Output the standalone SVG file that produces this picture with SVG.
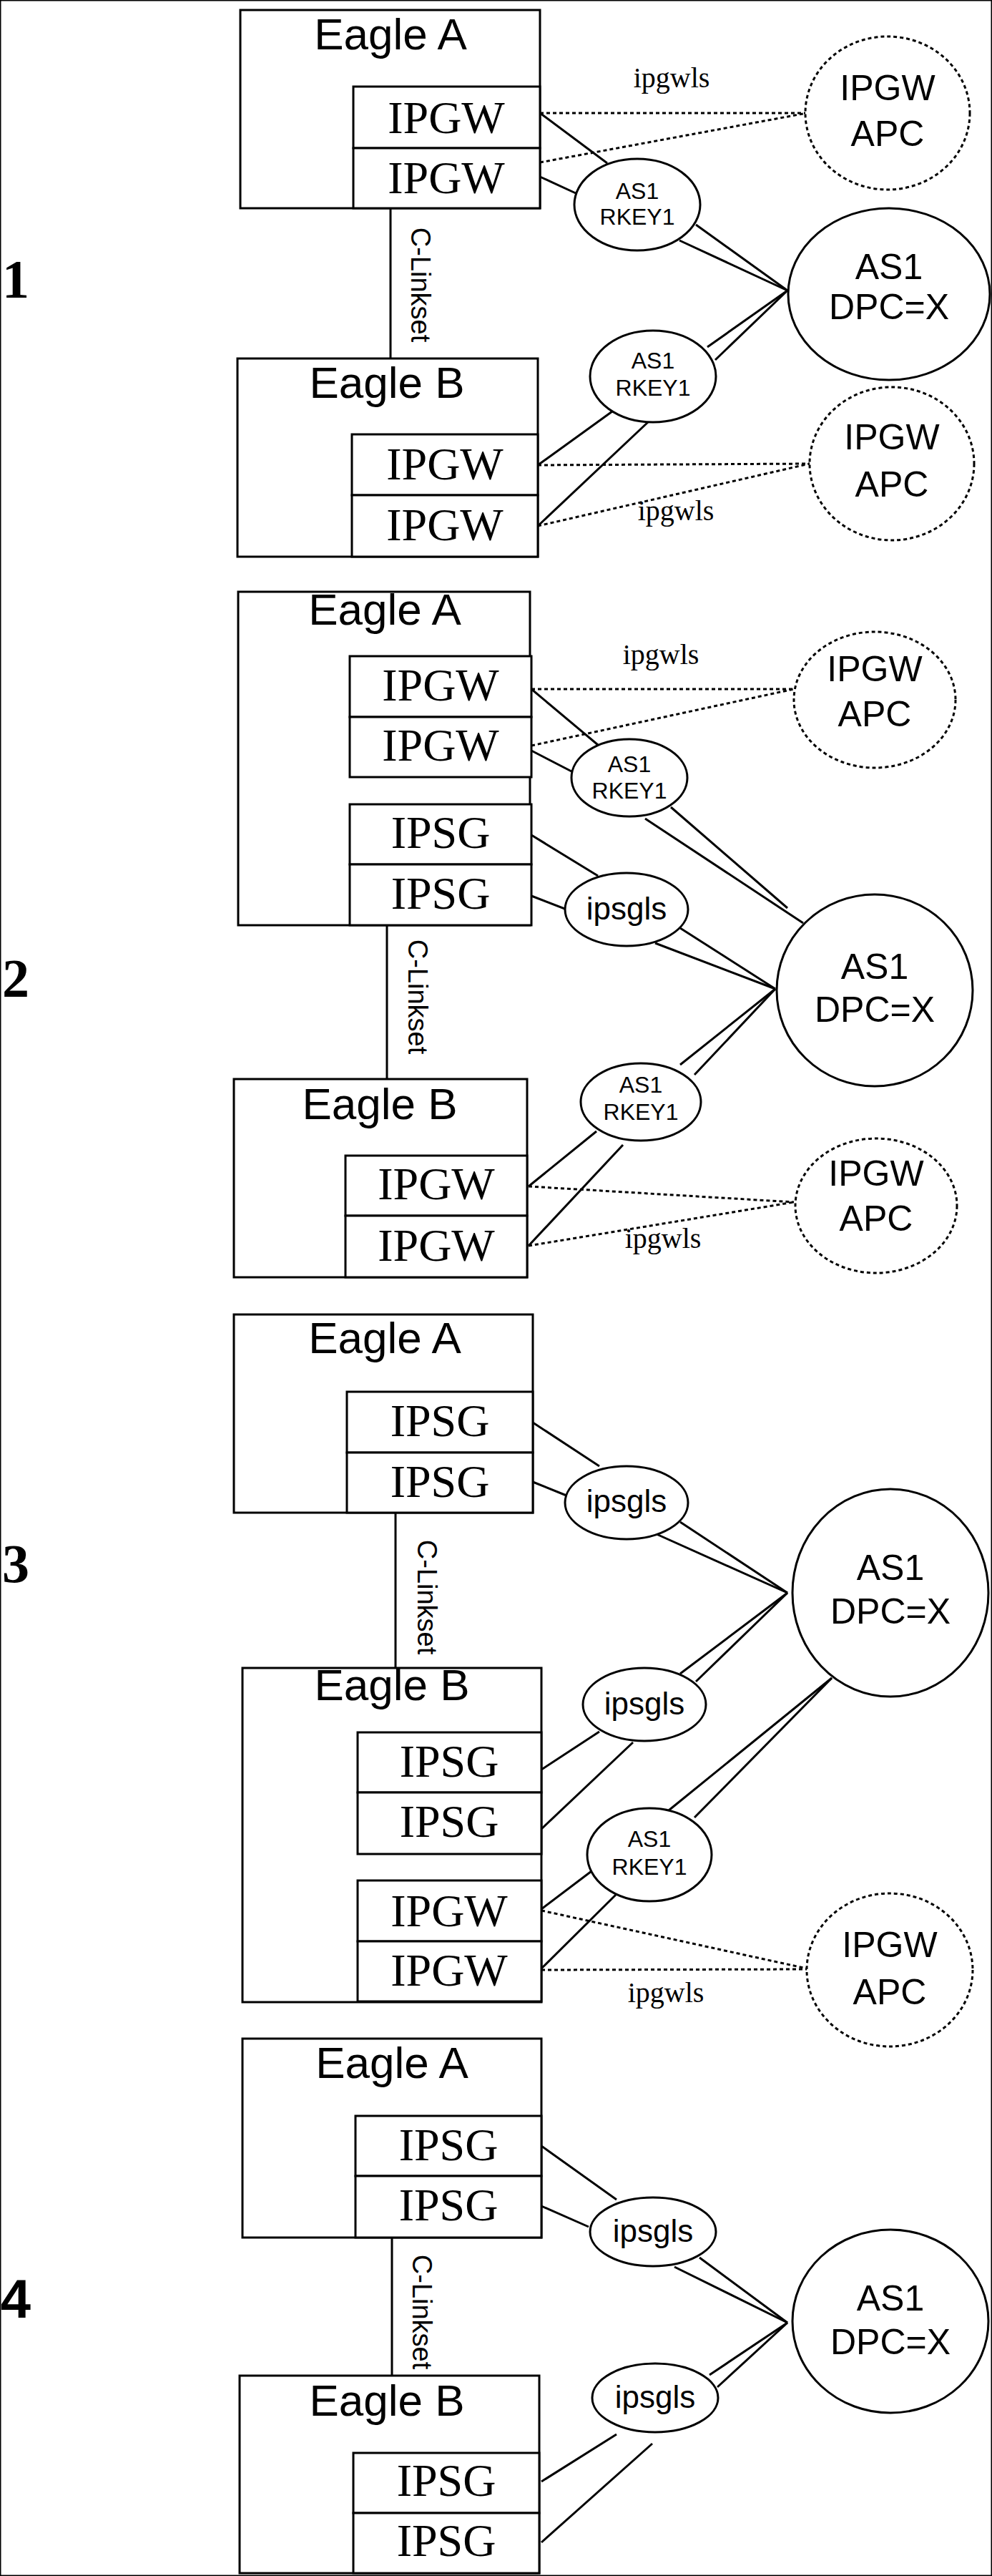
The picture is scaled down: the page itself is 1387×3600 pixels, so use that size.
<svg xmlns="http://www.w3.org/2000/svg" width="1387" height="3600" viewBox="0 0 1387 3600">
<style>
rect,ellipse{fill:#fff;stroke:#000;stroke-width:3}
.d{stroke-dasharray:5,4}
line{stroke:#000;stroke-width:3}
line.dl{stroke-dasharray:5,4}
text{text-anchor:middle;fill:#000}
.t{font-family:"Liberation Serif",serif;font-size:64px}
.e{font-family:"Liberation Sans",sans-serif;font-size:62px}
.s{font-family:"Liberation Sans",sans-serif;font-size:32px}
.m{font-family:"Liberation Sans",sans-serif;font-size:50px}
.g{font-family:"Liberation Sans",sans-serif;font-size:44px}
.w{font-family:"Liberation Serif",serif;font-size:40px}
.c{font-family:"Liberation Sans",sans-serif;font-size:38px}
.n{font-family:"Liberation Serif",serif;font-size:76px;font-weight:bold}
</style>
<rect width="1387" height="3600" fill="#fff" stroke="none"/>
<g id="connectors">
<line x1="546" y1="291" x2="546" y2="501"/>
<line class="dl" x1="755" y1="158" x2="1128" y2="158"/>
<line class="dl" x1="755" y1="227" x2="1128" y2="158"/>
<line x1="755" y1="158" x2="849" y2="228"/>
<line x1="755" y1="247" x2="805" y2="270"/>
<line x1="973" y1="314" x2="1101" y2="406"/>
<line x1="950" y1="336" x2="1101" y2="406"/>
<line x1="989" y1="485" x2="1101" y2="406"/>
<line x1="1000" y1="503" x2="1101" y2="406"/>
<line x1="752" y1="650" x2="856" y2="575"/>
<line x1="752" y1="735" x2="907" y2="589"/>
<line class="dl" x1="752" y1="650" x2="1132" y2="648"/>
<line class="dl" x1="752" y1="735" x2="1132" y2="648"/>
<line x1="541" y1="1293" x2="541" y2="1508"/>
<line class="dl" x1="743" y1="963" x2="1110" y2="963"/>
<line class="dl" x1="743" y1="1042" x2="1110" y2="963"/>
<line x1="743" y1="963" x2="836" y2="1041"/>
<line x1="743" y1="1049" x2="801" y2="1079"/>
<line x1="938" y1="1128" x2="1101" y2="1269"/>
<line x1="902" y1="1144" x2="1123" y2="1290"/>
<line x1="743" y1="1167" x2="836" y2="1224"/>
<line x1="743" y1="1252" x2="792" y2="1271"/>
<line x1="951" y1="1297" x2="1084" y2="1382"/>
<line x1="916" y1="1318" x2="1084" y2="1382"/>
<line x1="951" y1="1488" x2="1084" y2="1382"/>
<line x1="971" y1="1502" x2="1084" y2="1382"/>
<line x1="739" y1="1658" x2="834" y2="1581"/>
<line x1="739" y1="1741" x2="871" y2="1600"/>
<line class="dl" x1="739" y1="1658" x2="1110" y2="1680"/>
<line class="dl" x1="739" y1="1741" x2="1110" y2="1680"/>
<line x1="553" y1="2114" x2="553" y2="2331"/>
<line x1="745" y1="1988" x2="838" y2="2049"/>
<line x1="745" y1="2071" x2="792" y2="2090"/>
<line x1="951" y1="2127" x2="1101" y2="2226"/>
<line x1="918" y1="2144" x2="1101" y2="2226"/>
<line x1="951" y1="2339" x2="1101" y2="2226"/>
<line x1="973" y1="2350" x2="1101" y2="2226"/>
<line x1="757" y1="2473" x2="838" y2="2420"/>
<line x1="757" y1="2556" x2="885" y2="2435"/>
<line x1="1163" y1="2345" x2="935" y2="2530"/>
<line x1="1163" y1="2345" x2="971" y2="2540"/>
<line x1="757" y1="2668" x2="827" y2="2615"/>
<line x1="757" y1="2751" x2="861" y2="2648"/>
<line class="dl" x1="757" y1="2670" x2="1128" y2="2751"/>
<line class="dl" x1="757" y1="2753" x2="1128" y2="2752"/>
<line x1="548" y1="3127" x2="548" y2="3320"/>
<line x1="757" y1="2999" x2="862" y2="3074"/>
<line x1="757" y1="3083" x2="823" y2="3112"/>
<line x1="978" y1="3155" x2="1101" y2="3246"/>
<line x1="943" y1="3168" x2="1101" y2="3246"/>
<line x1="992" y1="3319" x2="1101" y2="3246"/>
<line x1="1003" y1="3336" x2="1101" y2="3246"/>
<line x1="757" y1="3468" x2="862" y2="3402"/>
<line x1="757" y1="3553" x2="912" y2="3415"/>
</g>
<g id="labels">
<text class="n" x="22" y="416">1</text>
<text class="n" x="22" y="1393">2</text>
<text class="n" x="22" y="2211">3</text>
<text class="n" x="22" y="3239" style="font-family:'Liberation Sans',sans-serif">4</text>
<text class="c" transform="translate(575,398) rotate(90)">C-Linkset</text>
<text class="c" transform="translate(571,1393) rotate(90)">C-Linkset</text>
<text class="c" transform="translate(584,2232) rotate(90)">C-Linkset</text>
<text class="c" transform="translate(577,3231) rotate(90)">C-Linkset</text>
<text class="w" x="939" y="122">ipgwls</text>
<text class="w" x="945" y="727">ipgwls</text>
<text class="w" x="924" y="928">ipgwls</text>
<text class="w" x="927" y="1744">ipgwls</text>
<text class="w" x="931" y="2798">ipgwls</text>
</g>
<g id="p1-eagleA"><rect x="336" y="14" width="419" height="277"/><text class="e" x="546" y="69">Eagle A</text></g>
<g id="p1-ipgw1"><rect x="494" y="121" width="261" height="86"/><text class="t" x="624" y="186">IPGW</text></g>
<g id="p1-ipgw2"><rect x="494" y="207" width="261" height="84"/><text class="t" x="624" y="270">IPGW</text></g>
<g id="p1-eagleB"><rect x="332" y="501" width="420" height="277"/><text class="e" x="541" y="556">Eagle B</text></g>
<g id="p1-ipgw3"><rect x="492" y="607" width="260" height="85"/><text class="t" x="622" y="670">IPGW</text></g>
<g id="p1-ipgw4"><rect x="492" y="692" width="260" height="86"/><text class="t" x="622" y="755">IPGW</text></g>
<g id="p1-rkey1"><ellipse cx="891" cy="286" rx="88" ry="64"/><text class="s" x="891" y="278">AS1</text><text class="s" x="891" y="314">RKEY1</text></g>
<g id="p1-rkey2"><ellipse cx="913" cy="526" rx="88" ry="64"/><text class="s" x="913" y="515">AS1</text><text class="s" x="913" y="553">RKEY1</text></g>
<g id="p1-as1"><ellipse cx="1243" cy="411" rx="141" ry="120"/><text class="m" x="1243" y="390">AS1</text><text class="m" x="1243" y="446">DPC=X</text></g>
<g id="p1-apc1"><ellipse class="d" cx="1241" cy="158" rx="115" ry="107"/><text class="m" x="1241" y="140">IPGW</text><text class="m" x="1241" y="204">APC</text></g>
<g id="p1-apc2"><ellipse class="d" cx="1247" cy="648" rx="115" ry="107"/><text class="m" x="1247" y="628">IPGW</text><text class="m" x="1247" y="694">APC</text></g>
<g id="p2-eagleA"><rect x="333" y="827" width="408" height="466"/><text class="e" x="538" y="873">Eagle A</text></g>
<g id="p2-ipgw1"><rect x="489" y="917" width="254" height="85"/><text class="t" x="616" y="979">IPGW</text></g>
<g id="p2-ipgw2"><rect x="489" y="1002" width="254" height="84"/><text class="t" x="616" y="1063">IPGW</text></g>
<g id="p2-ipsg1"><rect x="489" y="1124" width="254" height="84"/><text class="t" x="616" y="1185">IPSG</text></g>
<g id="p2-ipsg2"><rect x="489" y="1208" width="254" height="85"/><text class="t" x="616" y="1270">IPSG</text></g>
<g id="p2-eagleB"><rect x="327" y="1508" width="410" height="277"/><text class="e" x="531" y="1564">Eagle B</text></g>
<g id="p2-ipgw3"><rect x="483" y="1615" width="254" height="84"/><text class="t" x="610" y="1676">IPGW</text></g>
<g id="p2-ipgw4"><rect x="483" y="1699" width="254" height="86"/><text class="t" x="610" y="1762">IPGW</text></g>
<g id="p2-rkey1"><ellipse cx="880" cy="1087" rx="81" ry="54"/><text class="s" x="880" y="1079">AS1</text><text class="s" x="880" y="1116">RKEY1</text></g>
<g id="p2-ipsgls"><ellipse cx="876" cy="1271" rx="86" ry="51"/><text class="g" x="876" y="1285">ipsgls</text></g>
<g id="p2-as1"><ellipse cx="1223" cy="1384" rx="137" ry="134"/><text class="m" x="1223" y="1368">AS1</text><text class="m" x="1223" y="1428">DPC=X</text></g>
<g id="p2-rkey2"><ellipse cx="896" cy="1540" rx="84" ry="54"/><text class="s" x="896" y="1527">AS1</text><text class="s" x="896" y="1565">RKEY1</text></g>
<g id="p2-apc1"><ellipse class="d" cx="1223" cy="978" rx="113" ry="95"/><text class="m" x="1223" y="952">IPGW</text><text class="m" x="1223" y="1015">APC</text></g>
<g id="p2-apc2"><ellipse class="d" cx="1225" cy="1685" rx="113" ry="94"/><text class="m" x="1225" y="1657">IPGW</text><text class="m" x="1225" y="1720">APC</text></g>
<g id="p3-eagleA"><rect x="327" y="1837" width="418" height="277"/><text class="e" x="538" y="1891">Eagle A</text></g>
<g id="p3-ipsg1"><rect x="485" y="1945" width="260" height="85"/><text class="t" x="615" y="2007">IPSG</text></g>
<g id="p3-ipsg2"><rect x="485" y="2030" width="260" height="84"/><text class="t" x="615" y="2092">IPSG</text></g>
<g id="p3-eagleB"><rect x="339" y="2331" width="418" height="467"/><text class="e" x="548" y="2376">Eagle B</text></g>
<g id="p3-ipsg3"><rect x="500" y="2421" width="257" height="84"/><text class="t" x="628" y="2483">IPSG</text></g>
<g id="p3-ipsg4"><rect x="500" y="2505" width="257" height="86"/><text class="t" x="628" y="2567">IPSG</text></g>
<g id="p3-ipgw1"><rect x="500" y="2628" width="257" height="85"/><text class="t" x="628" y="2692">IPGW</text></g>
<g id="p3-ipgw2"><rect x="500" y="2713" width="257" height="84"/><text class="t" x="628" y="2775">IPGW</text></g>
<g id="p3-ipsgls1"><ellipse cx="876" cy="2100" rx="86" ry="51"/><text class="g" x="876" y="2113">ipsgls</text></g>
<g id="p3-as1"><ellipse cx="1245" cy="2226" rx="137" ry="145"/><text class="m" x="1245" y="2208">AS1</text><text class="m" x="1245" y="2269">DPC=X</text></g>
<g id="p3-ipsgls2"><ellipse cx="901" cy="2382" rx="86" ry="51"/><text class="g" x="901" y="2396">ipsgls</text></g>
<g id="p3-rkey"><ellipse cx="908" cy="2592" rx="87" ry="65"/><text class="s" x="908" y="2581">AS1</text><text class="s" x="908" y="2620">RKEY1</text></g>
<g id="p3-apc"><ellipse class="d" cx="1244" cy="2753" rx="116" ry="107"/><text class="m" x="1244" y="2735">IPGW</text><text class="m" x="1244" y="2801">APC</text></g>
<g id="p4-eagleA"><rect x="339" y="2849" width="418" height="278"/><text class="e" x="548" y="2904">Eagle A</text></g>
<g id="p4-ipsg1"><rect x="497" y="2957" width="260" height="84"/><text class="t" x="627" y="3019">IPSG</text></g>
<g id="p4-ipsg2"><rect x="497" y="3041" width="260" height="86"/><text class="t" x="627" y="3103">IPSG</text></g>
<g id="p4-eagleB"><rect x="335" y="3320" width="419" height="276"/><text class="e" x="541" y="3376">Eagle B</text></g>
<g id="p4-ipsg3"><rect x="494" y="3428" width="260" height="84"/><text class="t" x="624" y="3488">IPSG</text></g>
<g id="p4-ipsg4"><rect x="494" y="3512" width="260" height="84"/><text class="t" x="624" y="3572">IPSG</text></g>
<g id="p4-ipsgls1"><ellipse cx="913" cy="3119" rx="88" ry="48"/><text class="g" x="913" y="3133">ipsgls</text></g>
<g id="p4-as1"><ellipse cx="1245" cy="3244" rx="137" ry="128"/><text class="m" x="1245" y="3229">AS1</text><text class="m" x="1245" y="3290">DPC=X</text></g>
<g id="p4-ipsgls2"><ellipse cx="916" cy="3351" rx="88" ry="48"/><text class="g" x="916" y="3365">ipsgls</text></g>
</svg>
